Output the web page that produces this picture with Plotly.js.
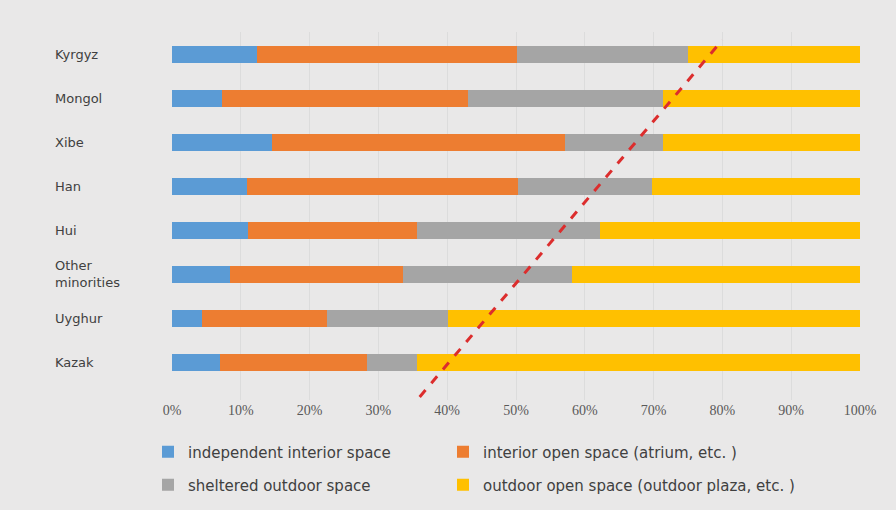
<!DOCTYPE html>
<html><head><meta charset="utf-8">
<script src="https://cdn.plot.ly/plotly-3.0.1.min.js"></script>
<style>html,body{margin:0;padding:0;background:#e9e8e8;}#chart{width:896px;height:510px;}</style>
</head><body><div id="chart"></div>
<script>
const categories = ["Kazak","Uyghur","Other<br>minorities","Hui","Han","Xibe","Mongol","Kyrgyz"];
const seriesNames = ["independent interior space","interior open space (atrium, etc. )","sheltered outdoor space","outdoor open space (outdoor plaza, etc. )"];
const independentInterior = [7.0, 4.3, 8.4, 11.0, 10.9, 14.5, 7.2, 12.4];
const interiorOpen        = [21.3, 18.2, 25.2, 24.6, 39.4, 42.6, 35.8, 37.7];
const shelteredOutdoor    = [7.3, 17.6, 24.5, 26.6, 19.5, 14.3, 28.4, 24.9];
const outdoorOpen         = [64.4, 59.9, 41.9, 37.8, 30.2, 28.6, 28.6, 25.0];
const colors = ["#5b9bd5","#ed7d31","#a5a5a5","#ffc000"];
const xTicks = [0,10,20,30,40,50,60,70,80,90,100];
const trendX = [36, 80];
const trendY = [-0.78, 7.32];

const values = [independentInterior, interiorOpen, shelteredOutdoor, outdoorOpen];
const legendIds = ['legend','legend2','legend3','legend4'];
const traces = values.map((v,i)=>({
  type:'bar', orientation:'h', name:seriesNames[i], x:v, y:categories,
  marker:{color:colors[i]}, hoverinfo:'skip', legend:legendIds[i]
}));

const annotations = categories.map(c=>({
  xref:'paper', yref:'y', x:-0.173, y:c, xanchor:'left', yanchor:'middle', align:'left',
  text:c, showarrow:false, font:{family:'DejaVu Sans, sans-serif', size:13, color:'#404040'}
}));

function legendAt(px, py){
  return {orientation:'h', xref:'container', yref:'container', x:px/896, xanchor:'left',
    y:1-py/510, yanchor:'middle',
    font:{family:'DejaVu Sans, sans-serif', size:15, color:'#404040'}, bgcolor:'rgba(0,0,0,0)'};
}

const layout = {
  width:896, height:510,
  margin:{l:172, r:36, t:32, b:110},
  paper_bgcolor:'#e9e8e8', plot_bgcolor:'#e9e8e8',
  barmode:'stack', bargap:0.615,
  showlegend:true,
  legend:legendAt(148,452),
  legend2:legendAt(443,452),
  legend3:legendAt(148,485),
  legend4:legendAt(443,485),
  xaxis:{range:[0,100], tickvals:xTicks, ticktext:xTicks.map(t=>t+'%'),
    showgrid:true, gridcolor:'#dcdcdc', gridwidth:1, zeroline:false, showline:false,
    tickfont:{family:'Liberation Serif, serif', size:14, color:'#595959'}, ticks:'', ticklen:0},
  yaxis:{type:'category', categoryorder:'array', categoryarray:categories, range:[-0.85,7.5],
    showticklabels:false, showgrid:false, zeroline:false, showline:false},
  annotations:annotations,
  shapes:[{type:'line', xref:'x', yref:'y', x0:trendX[0], y0:trendY[0], x1:trendX[1], y1:trendY[1],
    line:{color:'#dc2d2d', width:3, dash:'dash'}}]
};
Plotly.newPlot('chart', traces, layout, {displayModeBar:false, staticPlot:true});
</script></body></html>
